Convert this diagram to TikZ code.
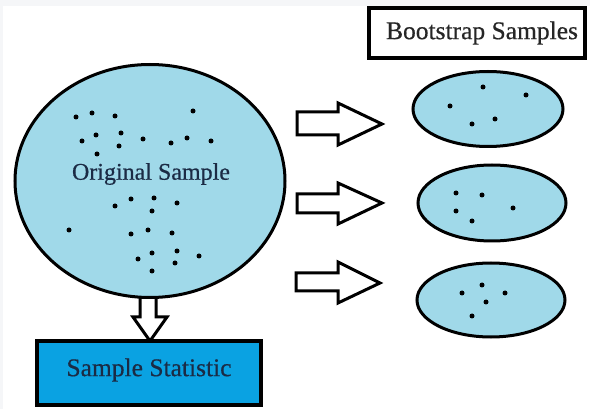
\documentclass[tikz,border=0pt]{standalone}
\usepackage{fontspec}
\setmainfont{Liberation Serif}[FakeBold=0.5]
\usetikzlibrary{shapes.geometric}
\definecolor{samplefill}{HTML}{A0D9E9}
\definecolor{statfill}{HTML}{0AA2E2}
\definecolor{inktext}{HTML}{1B2B45}
\definecolor{framegray}{HTML}{F5F6F8}
\tikzset{
  sampleblob/.style={ellipse, draw=black, line width=3pt, fill=samplefill, inner sep=0pt},
  labelbox/.style={draw=black, line width=4.5pt, inner sep=0pt},
  blockarrow/.style={draw=black, line width=3pt, fill=white, line join=miter},
  pt/.style={fill=black, circle, inner sep=0pt, minimum size=5pt},
  lbl/.style={text=inktext}
}
\begin{document}
\begin{tikzpicture}[x=1pt, y=-1pt]
  % page frame
  \fill[framegray] (0,0) rectangle (590,409);
  \fill[white] (3,6) rectangle (590,409);
  \useasboundingbox (0,0) rectangle (590,409);

  % downward block arrow to the statistic box
  \draw[blockarrow] (140,292) -- (156,292) -- (156,317) -- (167,317) -- (150,341)
    -- (133,317) -- (140,317) -- cycle;

  % original sample
  \node[sampleblob, minimum width=270pt, minimum height=233pt] (orig) at (150,181) {};
  \node[lbl, font=\fontsize{24}{26}\selectfont] (origlbl) at (151,174) {Original Sample};
  \foreach \p in {(76,117),(92,113),(115,116),(193,111),
                  (96,135),(82,141),(121,133),(119,146),(143,139),(171,143),(187,138),(211,141),(97,154),
                  (131,199),(115,206),(154,198),(152,211),(177,203),
                  (69,230),(131,234),(148,230),(172,233),
                  (152,253),(177,251),(199,256),(138,259),(175,263),(152,271)}
    \node[pt] at \p {};

  % sample statistic box
  \node[labelbox, fill=statfill, minimum width=224pt, minimum height=64pt] (stat) at (149,373) {};
  \node[lbl, font=\fontsize{25.5}{27}\selectfont] (statlbl) at (149,370) {Sample Statistic};

  % bootstrap samples header
  \node[labelbox, fill=white, minimum width=216pt, minimum height=50pt] (boot) at (477,33) {};
  \node[lbl, text=black!85, font=\fontsize{25.5}{27}\selectfont] (bootlbl) at (482,33) {Bootstrap Samples};

  % resampling arrows
  \draw[blockarrow] (297,112) -- (338,112) -- (338,103) -- (382,124) -- (338,145)
    -- (338,135) -- (297,135) -- cycle;
  \draw[blockarrow] (297,194) -- (338,194) -- (338,183) -- (382,203) -- (338,224)
    -- (338,213) -- (297,213) -- cycle;
  \draw[blockarrow] (296,273) -- (338,273) -- (338,262) -- (380,283) -- (338,303)
    -- (338,291) -- (296,291) -- cycle;

  % bootstrap samples
  \node[sampleblob, minimum width=150pt, minimum height=75pt] (bs1) at (488,109) {};
  \foreach \p in {(483,87),(526,95),(450,106),(472,124),(495,119)}
    \node[pt] at \p {};
  \node[sampleblob, minimum width=148pt, minimum height=76pt] (bs2) at (492,203) {};
  \foreach \p in {(456,193),(482,195),(456,211),(513,208),(472,221)}
    \node[pt] at \p {};
  \node[sampleblob, minimum width=148pt, minimum height=74pt] (bs3) at (491,300) {};
  \foreach \p in {(482,285),(462,293),(505,293),(486,302),(472,316)}
    \node[pt] at \p {};
\end{tikzpicture}
\end{document}
